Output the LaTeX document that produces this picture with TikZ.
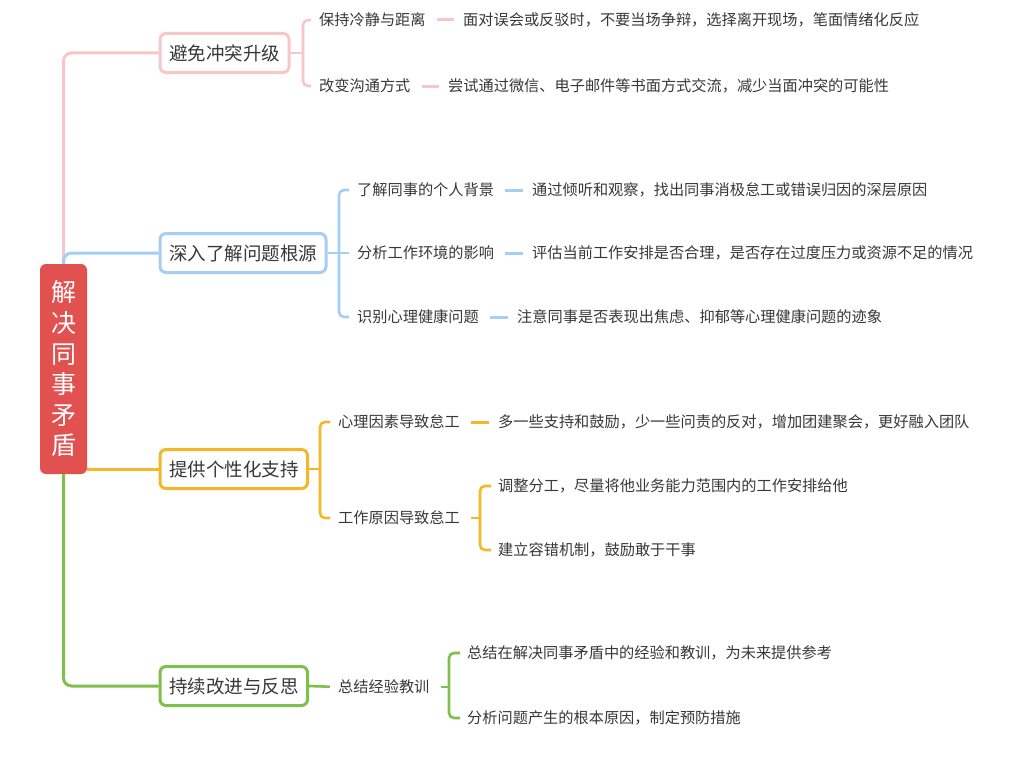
\documentclass[tikz,border=0pt]{standalone}
\usepackage{fontspec}
\setmainfont{Noto Sans CJK SC}
\definecolor{cpink}{HTML}{F8C6C8}
\definecolor{cblue}{HTML}{A6CDF3}
\definecolor{corange}{HTML}{F4B72A}
\definecolor{cgreen}{HTML}{7FBF4C}
\definecolor{croot}{HTML}{E0514F}
\definecolor{ctext}{HTML}{383838}
\tikzset{
  rootbox/.style={rectangle, rounded corners=6pt, fill=croot, text=white, minimum width=47pt, minimum height=210pt, align=center, inner sep=0pt, font=\fontsize{25}{30.6}\selectfont},
  mainbox/.style={rectangle, rounded corners=6pt, line width=3pt, fill=white, text=ctext, inner xsep=9pt, inner ysep=0pt, minimum height=39pt, font=\fontsize{18.5}{22}\selectfont, anchor=west},
  lbl/.style={inner sep=0pt, anchor=west, text=ctext, font=\fontsize{15.2}{18}\selectfont},
  mainline/.style={line width=3pt, rounded corners=8pt},
  brline/.style={line width=2.6pt, rounded corners=5pt},
  dashline/.style={line width=3pt, shorten <=11pt, shorten >=9pt},
}
\begin{document}
\begin{tikzpicture}[x=1pt,y=-1pt]
\useasboundingbox[fill=white] (0,0) rectangle (1024,768);

% root
\node[rootbox] (root) at (63.5,369) {解\\决\\同\\事\\矛\\盾};

% main boxes
\node[mainbox, draw=cpink]   (b1) at (158.5,53)  {避免冲突升级};
\node[mainbox, draw=cblue]   (b2) at (158.5,253) {深入了解问题根源};
\node[mainbox, draw=corange] (b3) at (158.5,469) {提供个性化支持};
\node[mainbox, draw=cgreen]  (b4) at (158.5,686) {持续改进与反思};

% branch 1
\node[lbl] (l11) at (319,20) {保持冷静与距离};
\node[lbl] (d11) at (463,20) {面对误会或反驳时，不要当场争辩，选择离开现场，笔面情绪化反应};
\node[lbl] (l12) at (319,86) {改变沟通方式};
\node[lbl] (d12) at (448,86) {尝试通过微信、电子邮件等书面方式交流，减少当面冲突的可能性};
\coordinate (j1) at (303,53);

% branch 2
\node[lbl] (l21) at (357,190) {了解同事的个人背景};
\node[lbl] (d21) at (532,190) {通过倾听和观察，找出同事消极怠工或错误归因的深层原因};
\node[lbl] (l22) at (357,253) {分析工作环境的影响};
\node[lbl] (d22) at (532,253) {评估当前工作安排是否合理，是否存在过度压力或资源不足的情况};
\node[lbl] (l23) at (357,317) {识别心理健康问题};
\node[lbl] (d23) at (517,317) {注意同事是否表现出焦虑、抑郁等心理健康问题的迹象};
\coordinate (j2) at (339,253);

% branch 3
\node[lbl] (l31) at (338,422) {心理因素导致怠工};
\node[lbl] (d31) at (498,422) {多一些支持和鼓励，少一些问责的反对，增加团建聚会，更好融入团队};
\node[lbl] (l32) at (338,518) {工作原因导致怠工};
\node[lbl] (d321) at (498,486) {调整分工，尽量将他业务能力范围内的工作安排给他};
\node[lbl] (d322) at (498,550) {建立容错机制，鼓励敢于干事};
\coordinate (j3) at (320,469);
\coordinate (j32) at (480,518);

% branch 4
\node[lbl] (l41) at (338,687) {总结经验教训};
\node[lbl] (d41) at (467,653) {总结在解决同事矛盾中的经验和教训，为未来提供参考};
\node[lbl] (d42) at (467,718) {分析问题产生的根本原因，制定预防措施};
\coordinate (j4) at (449,687);

% root connectors
\draw[mainline, cpink] (root.north) |- (b1.west);
\draw[mainline, cblue] (root.north) |- (b2.west);
\draw[mainline, corange] (b3.west -| root.east) -- (b3.west);
\draw[mainline, cgreen] (root.south) |- (b4.west);

% branch 1 connectors
\draw[brline, cpink] (b1.east) -- (j1);
\draw[brline, cpink] ([xshift=-8pt]l11.west) -| (j1) |- ([xshift=-8pt]l12.west);
\draw[dashline, cpink] (l11.east) -- (d11.west);
\draw[dashline, cpink] (l12.east) -- (d12.west);

% branch 2 connectors
\draw[brline, cblue] (b2.east) -- ([xshift=-8pt]l22.west);
\draw[brline, cblue] ([xshift=-8pt]l21.west) -| (j2) |- ([xshift=-8pt]l23.west);
\draw[dashline, cblue] (l21.east) -- (d21.west);
\draw[dashline, cblue] (l22.east) -- (d22.west);
\draw[dashline, cblue] (l23.east) -- (d23.west);

% branch 3 connectors
\draw[brline, corange] (b3.east) -- (j3);
\draw[brline, corange] ([xshift=-8pt]l31.west) -| (j3) |- ([xshift=-8pt]l32.west);
\draw[dashline, corange] (l31.east) -- (d31.west);
\draw[brline, corange, shorten <=11pt] (l32.east) -- (j32);
\draw[brline, corange] ([xshift=-7pt]d321.west) -| (j32) |- ([xshift=-7pt]d322.west);

% branch 4 connectors
\draw[brline, cgreen, shorten >=8pt] (b4.east) -- (l41.west);
\draw[brline, cgreen, shorten <=11pt] (l41.east) -- (j4);
\draw[brline, cgreen] ([xshift=-7pt]d41.west) -| (j4) |- ([xshift=-7pt]d42.west);
\end{tikzpicture}
\end{document}
